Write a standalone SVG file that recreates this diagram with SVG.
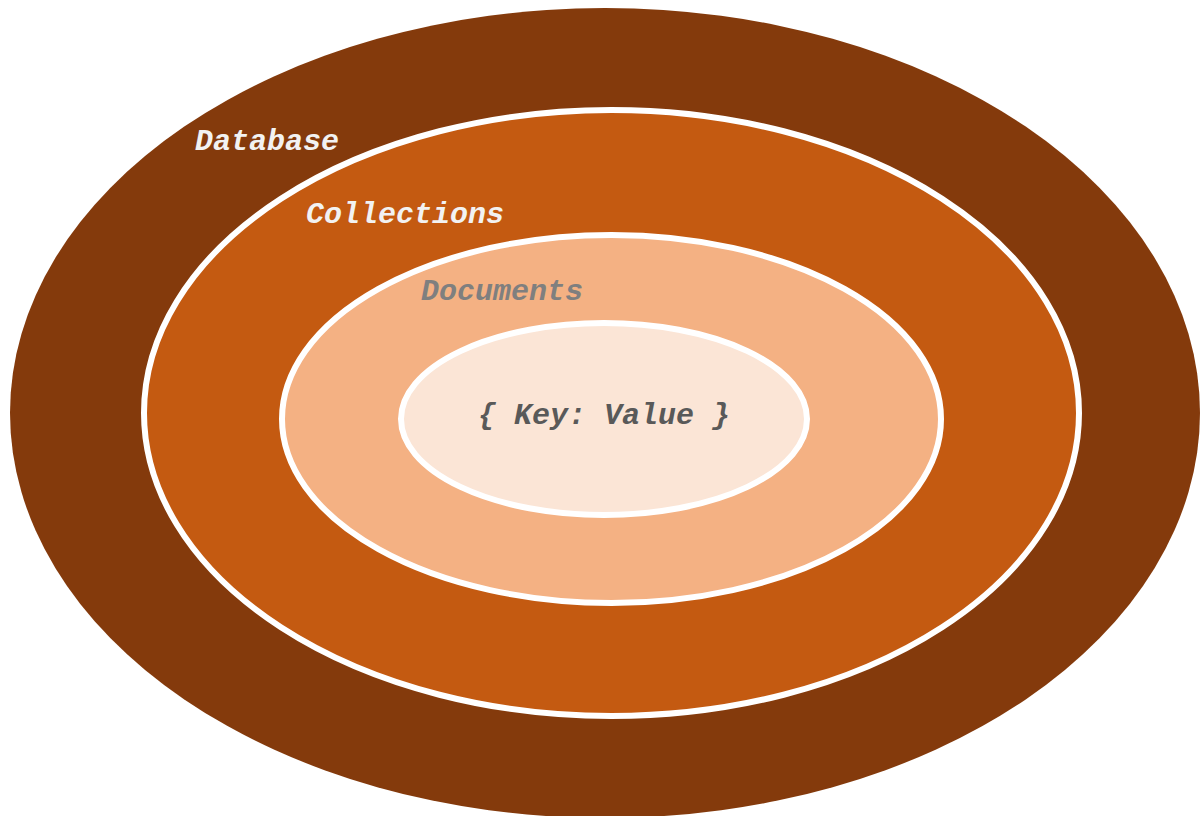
<svg xmlns="http://www.w3.org/2000/svg" width="1200" height="816" viewBox="0 0 1200 816">
<style>
.ring{stroke:#FFFFFF;stroke-width:6}
.lbl{font-family:"Liberation Mono","Courier New",monospace;font-weight:bold;font-style:italic;font-size:30px}
</style>
<rect width="1200" height="816" fill="#FFFFFF"/>
<g id="database">
<ellipse cx="605" cy="413" rx="595" ry="405" fill="#843A0C"/>
<text class="lbl" x="195" y="150" fill="#F2F2F2">Database</text>
</g>
<g id="collections">
<ellipse class="ring" cx="611.5" cy="413" rx="467.5" ry="303" fill="#C45A11"/>
<text class="lbl" x="306" y="223" fill="#F2F2F2">Collections</text>
</g>
<g id="documents">
<ellipse class="ring" cx="611.5" cy="419" rx="329.5" ry="184" fill="#F4B183"/>
<text class="lbl" x="421" y="300" fill="#7F7F7F">Documents</text>
</g>
<g id="keyvalue">
<ellipse class="ring" cx="604" cy="419" rx="203" ry="96" fill="#FBE5D6"/>
<text class="lbl" x="478" y="424" fill="#595959">{ Key: Value }</text>
</g>
<g id="connectors"/>
</svg>
